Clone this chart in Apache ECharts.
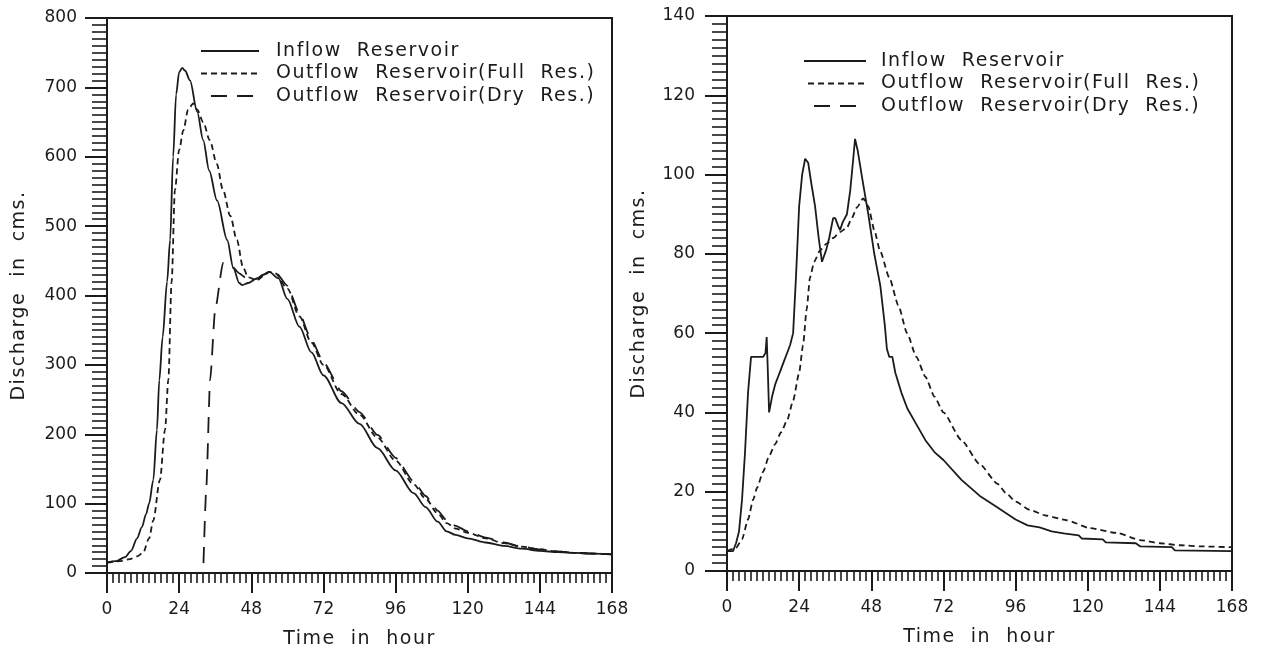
<!DOCTYPE html>
<html>
<head>
<meta charset="utf-8">
<title>Reservoir routing hydrographs</title>
<script src="https://cdn.jsdelivr.net/npm/echarts@6/dist/echarts.min.js"></script>
<style>
  html, body { margin: 0; padding: 0; background: #ffffff; }
  #chart { width: 1262px; height: 649px; }
</style>
</head>
<body>
<div id="chart"></div>
<script>
// ---- Event A (left panel): hours and discharge (cms) ----
const leftInflowHours = [0, 3, 6, 8, 10, 11.6, 13, 14, 15.4, 16.6, 17.4, 18.5, 20, 21, 22, 23, 24, 25, 26, 27.6, 30, 32, 34, 36.6, 40, 42, 44, 45, 47, 50, 52, 54, 57, 60, 64, 68, 72, 78, 84, 90, 96, 102, 106, 110, 113, 116, 120, 126, 132, 138, 144, 150, 156, 162, 168];
const leftInflow = [15, 17, 23, 32, 50, 66, 85, 100, 134, 206, 278, 340, 420, 480, 600, 690, 722, 728, 724, 710, 665, 624, 580, 537, 480, 440, 418, 415, 418, 425, 430, 434, 425, 395, 355, 318, 285, 245, 215, 180, 148, 115, 95, 74, 60, 55, 50, 44, 39, 35, 32, 30, 29, 28, 27];

const leftFullHours = [0, 4, 7.6, 10, 12, 14, 15.4, 17.6, 19.3, 20.4, 21.5, 22.6, 24, 25.4, 27, 28.7, 30, 32, 34.2, 36.5, 38.6, 41, 43.2, 45.3, 47, 50, 52, 54, 56, 60, 64, 68, 72, 78, 84, 90, 96, 102, 106, 110, 113, 116, 120, 126, 132, 138, 144, 150, 156, 162, 168];
const leftFull = [15, 17, 20, 24, 29, 50, 76, 134, 206, 278, 420, 552, 610, 638, 668, 677, 668, 650, 624, 590, 552, 515, 480, 440, 426, 422, 428, 434, 432, 410, 370, 332, 300, 258, 228, 195, 162, 128, 107, 86, 72, 64, 58, 50, 43, 38, 34, 31, 29, 28, 27];

const leftDryHours = [32, 33, 34.3, 36, 38.6, 40, 42, 44, 46, 48, 50, 52, 54, 56, 60, 64, 68, 72, 78, 84, 90, 96, 102, 106, 110, 113, 116, 120, 126, 132, 138, 144, 150, 156, 162, 168];
const leftDry = [0, 120, 278, 380, 447, 446, 440, 432, 426, 424, 424, 430, 434, 434, 414, 374, 336, 304, 262, 232, 199, 166, 132, 111, 90, 76, 68, 60, 51, 44, 38, 34, 31, 29, 28, 27];

// ---- Event B (right panel): hours and discharge (cms) ----
const rightInflowHours = [0, 2, 3, 4, 5, 6, 7, 8, 10, 12, 12.8, 13.2, 13.6, 14, 15, 16, 17, 18, 19, 20, 21, 22, 23, 24, 25, 26, 27, 28, 29.3, 30.5, 31.6, 33, 34, 35.3, 36, 37, 37.6, 38.5, 39.9, 41, 42, 42.6, 43.5, 45.3, 47, 49, 51, 52.5, 53.2, 54, 55, 56, 58, 60, 63, 66, 69, 72, 78, 84, 90, 96, 100, 104, 108, 112, 117, 118, 125, 126, 136, 137.5, 148, 149, 168];
const rightInflow = [5, 5, 7, 10, 18, 30, 45, 54, 54, 54, 55, 59, 50, 40, 44, 47, 49, 51, 53, 55, 57, 60, 75, 92, 100, 104, 103, 98, 92, 84, 78, 81, 84, 89, 89, 87, 86, 88, 90, 96, 104, 109, 106, 97.6, 90, 80, 72, 62, 56, 54, 54, 50, 45, 41, 37, 33, 30, 28, 23, 19, 16, 13, 11.5, 11, 10, 9.5, 9, 8.2, 8, 7.2, 7, 6.2, 6, 5.2, 5];

const rightFullHours = [0, 3, 5, 7, 8.7, 10, 12, 14, 16, 18, 20, 22, 24, 25.3, 26.5, 27.6, 29, 30.9, 33, 35.3, 37.6, 39.9, 41.5, 43.2, 45.3, 47, 49, 50.9, 54, 57, 59.9, 63, 66, 69, 72, 78, 84, 90, 93, 96, 100.8, 106, 113, 120.8, 129.7, 137.4, 144, 150.7, 158, 168];
const rightFull = [5, 5.8, 8, 13, 18, 21, 25, 29, 32, 35, 38, 43, 50, 57, 66, 74, 78, 80.8, 82.5, 84, 85.5, 86.6, 89, 91.7, 94, 92, 86, 80.8, 74, 67, 60, 54, 49, 44, 40, 33, 27, 22, 19.5, 17.5, 15.4, 14, 12.8, 10.8, 9.6, 7.8, 7, 6.5, 6.2, 6];

// the dry-reservoir run is not plotted for event B; it only appears in the key
const rightDryHours = [];
const rightDry = [];

// ---- axes ----
const hourTicks = [0, 24, 48, 72, 96, 120, 144, 168];
const leftDischargeMax = 800, leftDischargeStep = 100;
const rightDischargeMax = 140, rightDischargeStep = 20;

const seriesNames = ['Inflow Reservoir', 'Outflow Reservoir(Full Res.)', 'Outflow Reservoir(Dry Res.)'];
const legendLabels = ['Inflow  Reservoir', 'Outflow  Reservoir(Full  Res.)', 'Outflow  Reservoir(Dry  Res.)'];

const pairs = (xs, ys) => xs.map((x, i) => [x, ys[i]]);

const INK = '#1b1b1b';
const FONT = 'DejaVu Sans';
const TITLE_SIZE = 19;

// Wider tracking for the axis titles and the key text (drawn at TITLE_SIZE);
// every other text keeps normal spacing. The font is re-assigned so that the
// spacing change takes effect immediately.
(function () {
  const proto = CanvasRenderingContext2D.prototype;
  if (!('letterSpacing' in proto)) return;
  const fill = proto.fillText;
  proto.fillText = function (text, x, y, maxWidth) {
    const wide = this.font && this.font.indexOf(TITLE_SIZE + 'px') >= 0;
    const font = this.font;
    this.letterSpacing = wide ? '1.5px' : '0px';
    this.font = font;
    if (maxWidth === undefined) fill.call(this, text, x, y); else fill.call(this, text, x, y, maxWidth);
    if (wide) {
      this.letterSpacing = '0px';
      this.font = font;
    }
  };
})();

const lineStyles = [
  { color: INK, width: 1.8, type: 'solid' },
  { color: INK, width: 1.8, type: [6, 4] },
  { color: INK, width: 1.8, type: [16, 10], dashOffset: 16 }
];

function xAxisFor(gridIndex) {
  return {
    type: 'value', gridIndex, min: 0, max: 168, interval: 24,
    name: 'Time  in  hour', nameLocation: 'middle', nameGap: 57,
    nameTextStyle: { fontFamily: FONT, fontSize: TITLE_SIZE, color: INK },
    axisLine: { show: true, onZero: false, lineStyle: { color: INK, width: 2 } },
    axisTick: { show: true, inside: false, length: 20, lineStyle: { color: INK, width: 2 } },
    minorTick: { show: true, splitNumber: 12, length: 10, lineStyle: { color: INK, width: 1.6 } },
    axisLabel: {
      margin: 28, fontFamily: FONT, fontSize: 17, color: INK,
      customValues: hourTicks,
      formatter: v => String(v)
    },
    splitLine: { show: false }
  };
}

function yAxisFor(gridIndex, max, step, labelMargin) {
  return {
    type: 'value', gridIndex, min: 0, max, interval: step,
    name: 'Discharge  in  cms.', nameLocation: 'middle', nameGap: 78,
    nameTextStyle: { fontFamily: FONT, fontSize: TITLE_SIZE, color: INK },
    axisLine: { show: true, onZero: false, lineStyle: { color: INK, width: 2 } },
    axisTick: { show: true, inside: false, length: 22, lineStyle: { color: INK, width: 2 } },
    minorTick: { show: true, splitNumber: 10, length: 15, lineStyle: { color: INK, width: 1.6 } },
    axisLabel: { margin: labelMargin, fontFamily: FONT, fontSize: 17, color: INK },
    splitLine: { show: false }
  };
}

function seriesFor(idx, data, opt) {
  return {
    type: 'line',
    name: seriesNames[idx],
    xAxisIndex: opt.axis, yAxisIndex: opt.axis,
    data,
    symbol: 'none', showSymbol: false,
    smooth: opt.amount, smoothMonotone: opt.amount ? 'x' : undefined,
    lineStyle: lineStyles[idx],
    itemStyle: { color: INK },
    emphasis: { disabled: true },
    z: 3 - idx
  };
}

function legendFor(left, top, width, pad) {
  return {
    orient: 'vertical', left, top, padding: 0,
    itemWidth: width, itemHeight: 12, itemGap: 2.5,
    selectedMode: false,
    itemStyle: { opacity: 0 },
    data: seriesNames.map(n => ({ name: n })),
    formatter: n => legendLabels[seriesNames.indexOf(n)],
    textStyle: { fontFamily: FONT, fontSize: TITLE_SIZE, color: INK, lineHeight: 20, padding: [0, 0, 0, pad] }
  };
}

const chart = echarts.init(document.getElementById('chart'), null, { renderer: 'canvas' });

const gridBase = { width: 505, height: 555, show: true, borderColor: INK, borderWidth: 2, backgroundColor: 'transparent', containLabel: false, outerBoundsMode: 'none' };

chart.setOption({
  backgroundColor: '#ffffff',
  animation: false,
  grid: [
    Object.assign({ left: 107, top: 18 }, gridBase),
    Object.assign({ left: 727, top: 16 }, gridBase)
  ],
  xAxis: [xAxisFor(0), xAxisFor(1)],
  yAxis: [
    yAxisFor(0, leftDischargeMax, leftDischargeStep, 30),
    yAxisFor(1, rightDischargeMax, rightDischargeStep, 32)
  ],
  legend: [
    legendFor(200, 41, 58, 12),
    legendFor(803, 51, 62, 10)
  ],
  series: [
    seriesFor(0, pairs(leftInflowHours, leftInflow), { axis: 0, amount: 0.3 }),
    seriesFor(1, pairs(leftFullHours, leftFull), { axis: 0, amount: 0.3 }),
    seriesFor(2, pairs(leftDryHours, leftDry), { axis: 0, amount: 0.2 }),
    seriesFor(0, pairs(rightInflowHours, rightInflow), { axis: 1, amount: 0 }),
    seriesFor(1, pairs(rightFullHours, rightFull), { axis: 1, amount: 0.2 }),
    seriesFor(2, pairs(rightDryHours, rightDry), { axis: 1, amount: 0 })
  ]
});
</script>
</body>
</html>
